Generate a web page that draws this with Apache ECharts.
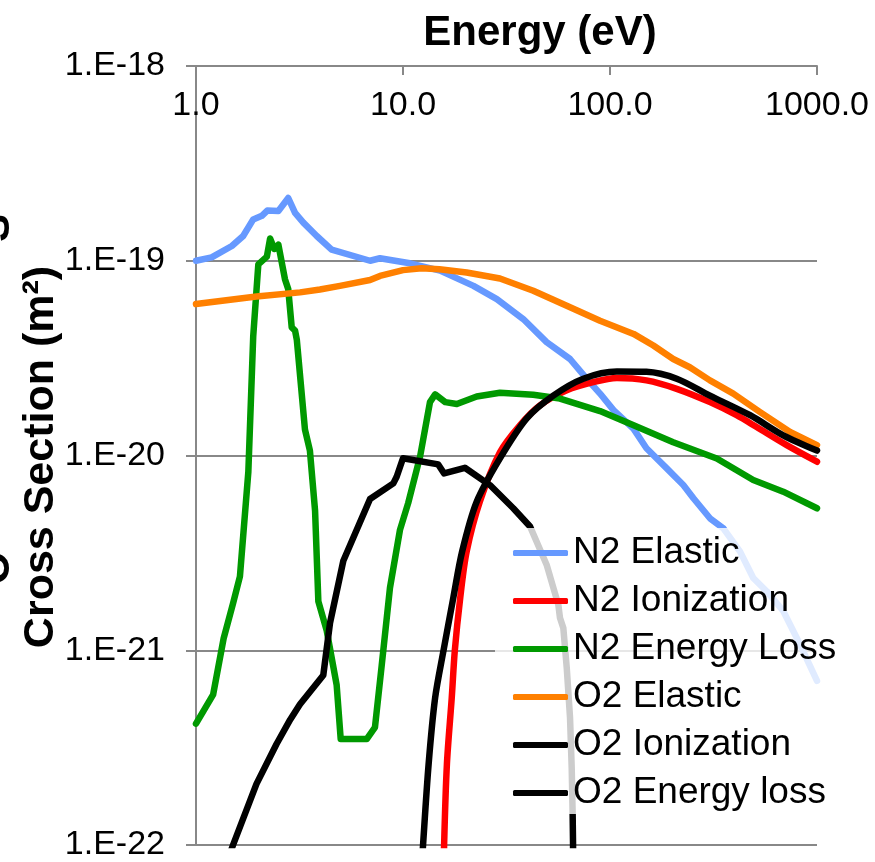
<!DOCTYPE html>
<html><head><meta charset="utf-8">
<script src="https://cdn.jsdelivr.net/npm/echarts@6/dist/echarts.min.js"></script>
<style>html,body{margin:0;padding:0;background:#fff}#c{width:875px;height:862px}</style>
</head><body><div id="c"></div>
<script>
const seriesNames = ['N2 Elastic','N2 Ionization','N2 Energy Loss','O2 Elastic','O2 Ionization','O2 Energy loss'];
const seriesColors = ['#6699FF','#FF0000','#009900','#FF8000','#000000','#000000'];
const seriesSmooth = [false, 0.3, false, false, 0.3, false];

// energy (eV), cross section (m^2)
const n2Elastic = [[1.0,1.00e-19],[1.19,1.04e-19],[1.49,1.19e-19],[1.69,1.34e-19],[1.89,1.63e-19],[2.08,1.70e-19],[2.21,1.81e-19],[2.50,1.80e-19],[2.79,2.10e-19],[3.01,1.76e-19],[3.30,1.57e-19],[3.83,1.34e-19],[4.52,1.14e-19],[6.93,1.00e-19],[7.74,1.03e-19],[10.8,9.7e-20],[15.1,8.9e-20],[21.9,7.43e-20],[28.4,6.35e-20],[38.1,5.02e-20],[49.4,3.82e-20],[64.1,3.13e-20],[77.1,2.48e-20],[89.5,2.08e-20],[104,1.71e-20],[130,1.37e-20],[150,1.09e-20],[188,8.59e-21],[226,7.05e-21],[253,6.03e-21],[304,4.76e-21],[353,4.23e-21],[425,3.21e-21],[492,2.35e-21],[571,2.01e-21],[687,1.59e-21],[828,1.07e-21],[1000,6.96e-22]];

const n2Ionization = [[15.65,5e-23],[15.8,1.0e-22],[16.3,2.61e-22],[17.2,5.71e-22],[17.8,1.0e-21],[18.9,1.86e-21],[20.3,3.21e-21],[23.5,5.79e-21],[29.4,1.04e-20],[36.7,1.43e-20],[45.9,1.81e-20],[61.8,2.16e-20],[83.0,2.38e-20],[108,2.50e-20],[150,2.43e-20],[210,2.20e-20],[304,1.88e-20],[409,1.61e-20],[511,1.40e-20],[714,1.13e-20],[1000,9.29e-21]];

const n2EnergyLoss = [[1.0,4.20e-22],[1.21,5.92e-22],[1.36,1.15e-21],[1.51,1.74e-21],[1.63,2.39e-21],[1.79,8.24e-21],[1.89,4.10e-20],[2.00,9.57e-20],[2.20,1.05e-19],[2.28,1.30e-19],[2.39,1.15e-19],[2.50,1.21e-19],[2.69,8.04e-20],[2.79,7.15e-20],[2.90,4.55e-20],[3.01,4.38e-20],[3.07,3.92e-20],[3.36,1.36e-20],[3.55,1.06e-20],[3.76,5.21e-21],[3.90,1.78e-21],[4.28,1.26e-21],[4.78,6.64e-22],[5.00,3.50e-22],[6.68,3.50e-22],[7.32,4.02e-22],[7.89,8.35e-22],[8.65,2.09e-21],[9.67,4.15e-21],[10.6,5.71e-21],[12.1,9.91e-21],[13.5,1.88e-20],[14.3,2.06e-20],[16.0,1.88e-20],[18.2,1.84e-20],[22.7,2.01e-20],[29.4,2.10e-20],[42.6,2.05e-20],[57.3,1.96e-20],[89.5,1.69e-20],[130,1.43e-20],[202,1.17e-20],[328,9.66e-21],[492,7.48e-21],[687,6.52e-21],[1000,5.36e-21]];

const o2Elastic = [[1.0,5.99e-20],[1.96,6.56e-20],[3.18,6.88e-20],[3.97,7.12e-20],[4.96,7.43e-20],[6.93,7.96e-20],[7.74,8.36e-20],[10.0,8.95e-20],[12.3,9.15e-20],[15.0,9.05e-20],[20.3,8.70e-20],[29.4,8.10e-20],[42.6,7.01e-20],[61.8,5.87e-20],[89.5,4.92e-20],[130,4.21e-20],[162,3.67e-20],[202,3.13e-20],[243,2.84e-20],[304,2.43e-20],[394,2.08e-20],[531,1.67e-20],[741,1.32e-20],[1000,1.13e-20]];

const o2Ionization = [[12.0,5e-23],[12.5,1.0e-22],[13.3,2.61e-22],[14.3,5.71e-22],[15.7,1.0e-21],[17.5,1.86e-21],[19.3,3.21e-21],[22.7,5.79e-21],[29.4,9.66e-21],[39.6,1.55e-20],[53.2,2.03e-20],[74.3,2.48e-20],[108,2.70e-20],[150,2.69e-20],[210,2.48e-20],[304,2.03e-20],[475,1.61e-20],[687,1.27e-20],[1000,1.06e-20]];

const o2EnergyLoss = [[1.40,8e-23],[1.51,1.0e-22],[1.96,2.06e-22],[2.45,3.30e-22],[2.85,4.40e-22],[3.18,5.28e-22],[4.12,7.44e-22],[4.44,1.38e-21],[5.15,2.88e-21],[6.93,5.98e-21],[8.98,7.19e-21],[9.32,7.78e-21],[10.0,9.68e-21],[14.8,9.00e-21],[15.8,8.09e-21],[19.9,8.65e-21],[26.3,7.05e-21],[34.1,5.36e-21],[41.1,4.32e-21],[49.4,2.75e-21],[56.3,1.71e-21],[57.3,1.47e-21],[59.5,1.30e-21],[61.8,8.13e-22],[64.1,4.52e-22],[65.3,2.51e-22],[66.0,1.44e-22],[66.3,1.0e-22],[66.5,5e-23]];

const seriesData = [n2Elastic, n2Ionization, n2EnergyLoss, o2Elastic, o2Ionization, o2EnergyLoss];

const xTickLabels = ['1.0','10.0','100.0','1000.0'];                 // decades 10^0 .. 10^3 eV
const yTickLabels = ['1.E-22','1.E-21','1.E-20','1.E-19','1.E-18']; // decades 10^-22 .. 10^-18 m^2
const xTitle = 'Energy (eV)';
const yTitle = 'Cross Section (m\u00B2)';

// ECharts' log scale rounds tiny numbers to 0, so plot in units of 1e-22 m^2
const Y_UNIT = 1e-22;
const toPlot = arr => arr.map(p => [p[0], p[1] / Y_UNIT]);

const FONT = 'Liberation Sans, Arial, sans-serif';
const chart = echarts.init(document.getElementById('c'));

chart.setOption({
  animation: false,
  backgroundColor: '#fff',
  grid: {left: 196, top: 66, width: 621, height: 782, containLabel: false},
  xAxis: {
    type: 'log', logBase: 10, min: 1, max: 1000, position: 'top',
    axisLine: {show: true, lineStyle: {color: '#888', width: 2}},
    axisTick: {show: true, inside: true, length: 9, lineStyle: {color: '#888', width: 2}},
    axisLabel: {inside: true, margin: 23, fontSize: 34, color: '#000', fontFamily: FONT,
      formatter: v => xTickLabels[Math.round(Math.log10(v))] || ''},
    splitLine: {show: false},
    minorTick: {show: false}
  },
  yAxis: {
    type: 'log', logBase: 10, min: 1, max: 10000,
    axisLine: {show: true, lineStyle: {color: '#888', width: 2}},
    axisTick: {show: true, inside: false, length: 10, lineStyle: {color: '#888', width: 2}},
    axisLabel: {margin: 31, fontSize: 34, color: '#000', fontFamily: FONT,
      formatter: v => yTickLabels[Math.round(Math.log10(v))] || ''},
    splitLine: {show: true, lineStyle: {color: '#888', width: 2}}
  },
  legend: {
    orient: 'vertical', left: 495, top: 528,
    padding: [5, 6, 1, 18],
    backgroundColor: 'rgba(255,255,255,0.8)',
    icon: 'roundRect',
    itemWidth: 55, itemHeight: 6, itemGap: 8,
    textStyle: {fontSize: 37, fontFamily: FONT, color: '#000', lineHeight: 40},
    data: seriesNames
  },
  graphic: [
    {type: 'text', x: 540, y: 33, style: {text: xTitle, font: 'bold 42px ' + FONT, fill: '#000', align: 'center', verticalAlign: 'middle'}},
    {type: 'text', x: 41, y: 457, rotation: Math.PI / 2, style: {text: yTitle, font: 'bold 43px ' + FONT, fill: '#000', align: 'center', verticalAlign: 'middle'}},
    {type: 'text', x: -3, y: 228, rotation: Math.PI / 2, style: {text: 'S', font: 'bold 42px ' + FONT, fill: '#000', align: 'center', verticalAlign: 'middle'}},
    {type: 'text', x: -3, y: 568, rotation: Math.PI / 2, style: {text: 'O', font: 'bold 42px ' + FONT, fill: '#000', align: 'center', verticalAlign: 'middle'}}
  ],
  series: seriesNames.map((name, i) => ({
    name: name, type: 'line', data: toPlot(seriesData[i]),
    symbol: 'none', smooth: seriesSmooth[i], clip: true,
    lineStyle: {color: seriesColors[i], width: 6.5, join: 'round', cap: 'round'},
    itemStyle: {color: seriesColors[i]}
  }))
});
</script></body></html>
